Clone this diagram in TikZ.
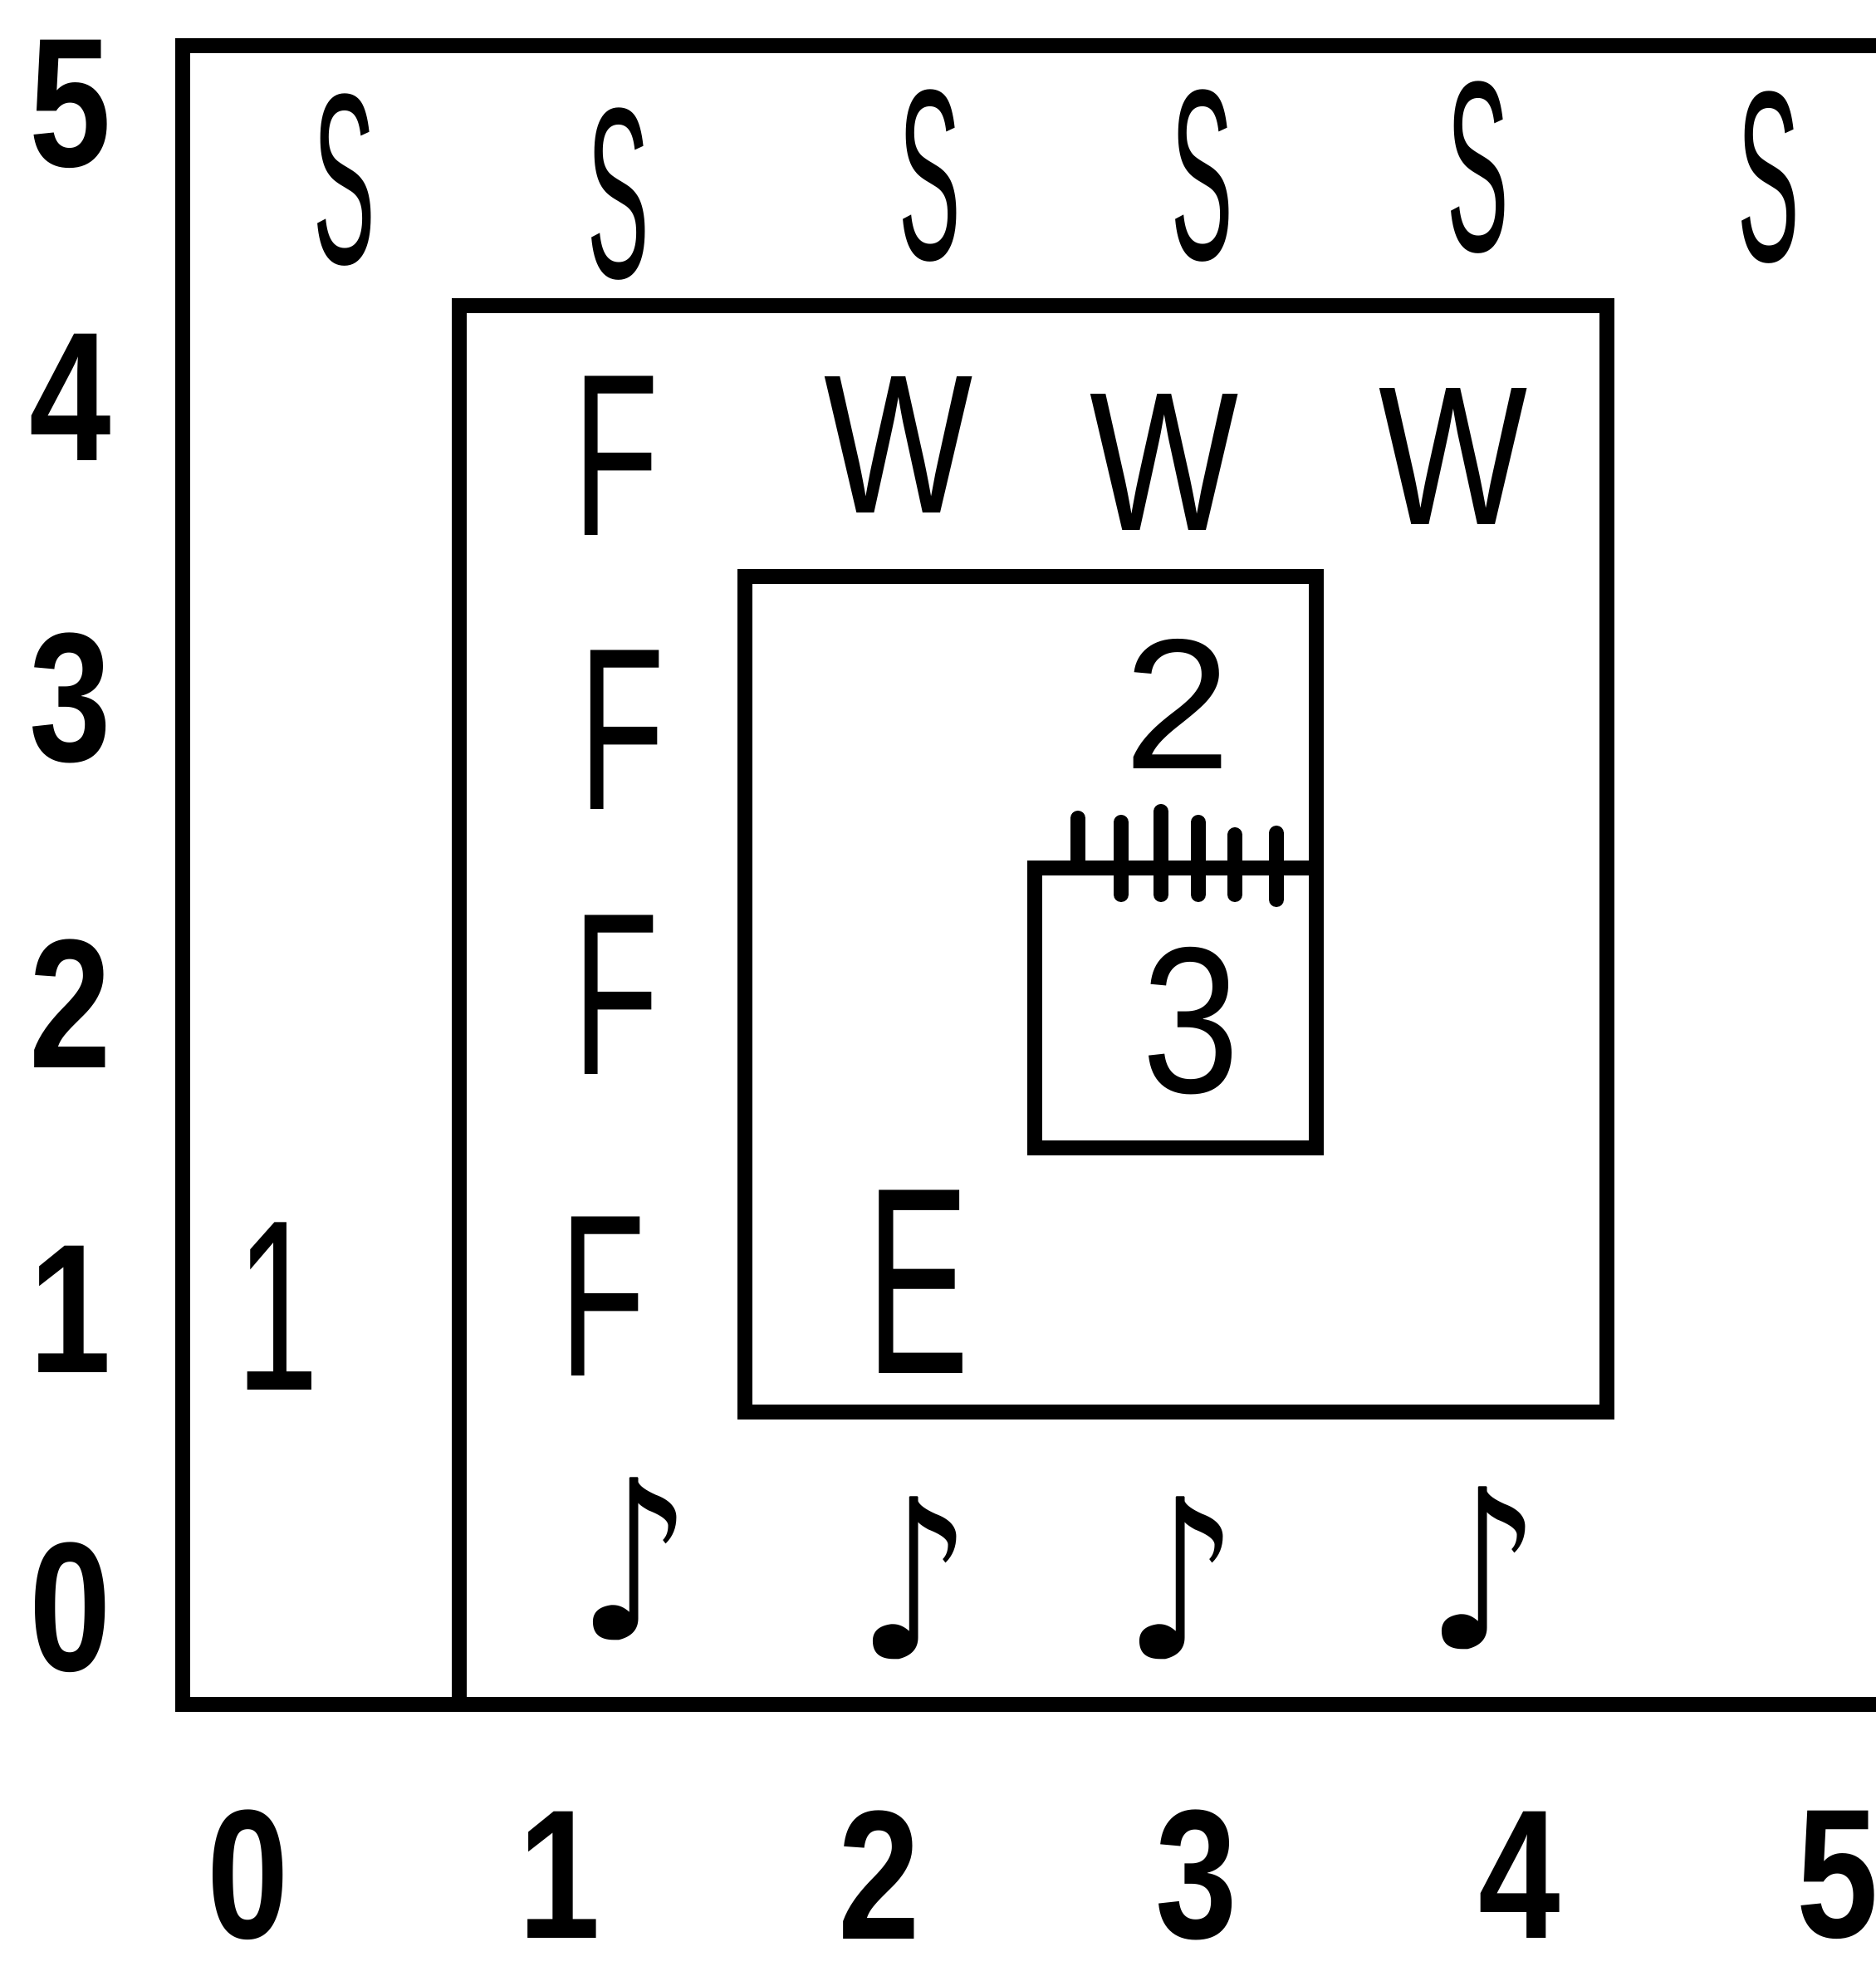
\documentclass[tikz,border=0pt]{standalone}
\usepackage{fontspec}
\usepackage{graphicx}
\setmainfont{Liberation Sans}
\newfontfamily\tunefont{DejaVu Sans}
\usetikzlibrary{positioning}

\begin{document}
\begin{tikzpicture}[
    x=1mm, y=1mm,
    every node/.style = {inner sep=0pt, anchor=center},
    wall/.style       = {draw=black, line width=1.8mm, line join=miter},
    hatchmark/.style  = {draw=black, line width=1.8mm, line cap=round},
    axislbl/.style    = {font=\fontsize{63}{63}\selectfont\bfseries, xscale=0.8},
    hand/.style       = {font=\fontsize{60}{60}\selectfont},
    sea/.style        = {hand, xscale=0.53, yscale=1.39},
    forest/.style     = {hand, xscale=0.8, yscale=1.32},
    water/.style      = {hand, xscale=0.9, yscale=1.13},
    tune/.style       = {font=\tunefont\fontsize{76}{76}\selectfont, xscale=0.8},
  ]

  %% page frame (2259 x 2385 px, 0.1 mm per px)
  \path[use as bounding box, fill=white] (0,0) rectangle (225.9,238.5);

  %% Outer region: open to the right
  \draw[wall] (225.9,233.0) -- (22.0,233.0) -- (22.0,33.3) -- (225.9,33.3);

  %% Nested regions drawn as one spiral: box 1 -> box 2 -> box 3
  \draw[wall] (55.3,33.3) -- (55.3,201.7) -- (193.5,201.7) -- (193.5,68.5)
              -- (89.7,68.5) -- (89.7,169.1) -- (158.5,169.1) -- (158.5,100.3)
              -- (124.6,100.3) -- (124.6,134.0) -- (158.5,134.0);

  %% hatching on top edge of box 3
  \foreach \xx/\ya/\yb in {129.8/134.0/140.0, 135.0/130.8/139.5, 139.8/130.8/140.8,
                           144.3/130.8/139.5, 148.7/130.8/138.0, 153.7/130.2/138.2}
    \draw[hatchmark] (\xx,\yb) -- (\xx,\ya);

  %% Axis labels
  \foreach \n/\yy in {5/226.0, 4/190.7, 3/154.5, 2/117.7, 1/80.9, 0/45.0}
    \node[axislbl] (row\n) at (8.5,\yy) {\n};
  \foreach \n/\xx in {0/29.9, 1/67.4, 2/105.9, 3/144.1, 4/183.0, 5/221.3}
    \node[axislbl] (col\n) at (\xx,12.8) {\n};

  %% Row 5: S marks
  \foreach \i/\xx/\yy in {0/41.5/216.8, 1/74.5/215.1, 2/112.0/217.3,
                          3/144.8/217.3, 4/178.0/218.3, 5/213.0/217.1}
    \node[sea] (s\i) at (\xx,\yy) {S};

  %% Column 1: F marks
  \foreach \i/\xx/\yy in {4/74.2/183.6, 3/74.9/150.6, 2/74.2/118.7, 1/72.6/82.4}
    \node[forest] (f\i) at (\xx,\yy) {F};

  %% Row 4: W marks
  \foreach \i/\xx/\yy in {2/108.2/184.9, 3/140.2/182.8, 4/175.0/183.5}
    \node[water] (w\i) at (\xx,\yy) {W};

  %% Row 0: notes
  \foreach \i/\xx/\yy in {1/76.5/50.8, 2/110.2/48.5, 3/142.3/48.5, 4/178.7/49.7}
    \node[tune] (n\i) at (\xx,\yy) {♪};

  %% Region numbers and E
  \node[hand, xscale=0.85, yscale=1.39] (one)   at (33.4,81.2)  {1};
  \node[hand, xscale=1.1,  yscale=1.06] (two)   at (141.8,153.8) {2};
  \node[hand, xscale=1.0,  yscale=1.19] (three) at (143.4,115.6) {3};
  \node[hand, xscale=0.88, yscale=1.52] (entry) at (110.5,84.2)  {E};

\end{tikzpicture}
\end{document}
